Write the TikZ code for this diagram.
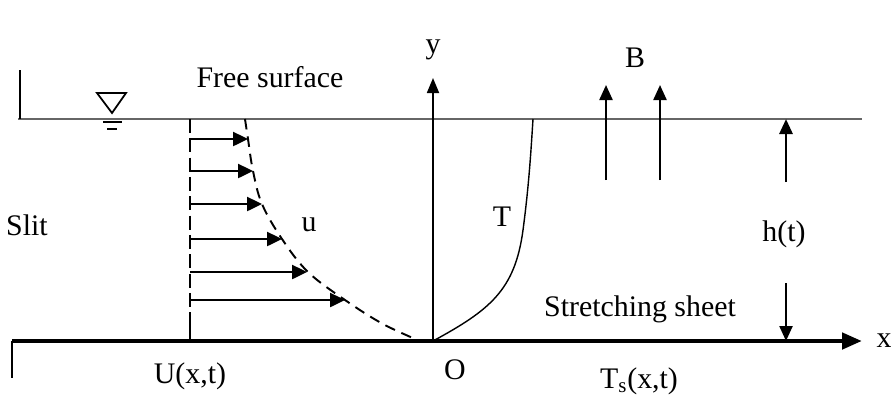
\documentclass[tikz,border=0pt]{standalone}
\usepackage{fontspec}
\setmainfont{Liberation Serif}
\usetikzlibrary{arrows.meta,positioning}

\begin{document}
\begin{tikzpicture}[x=0.02cm,y=-0.02cm,
  lbl/.style={font=\fontsize{17}{20}\selectfont,inner sep=1pt},
  vel/.style={-{Triangle[length=3mm,width=2.8mm]},line width=1.4pt},
  fld/.style={-{Triangle[length=3mm,width=2.6mm]},line width=1.3pt},
  surf/.style={draw=black!60,line width=1.3pt},
  wall/.style={line width=1.7pt}]
\useasboundingbox (0,0) rectangle (891,400);
% walls and free surface
\coordinate (sl) at (18,119);
\coordinate (sr) at (862,119);
\draw[surf] (sl) -- (sr);
\coordinate (wt) at (20,70);
\coordinate (wb) at (20,119);
\draw[wall] (wt) -- (wb);
\coordinate (bt) at (12,341);
\coordinate (bb) at (12,378);
\draw[wall] (bt) -- (bb);
\coordinate (xe) at (862,341);
\draw[-{Triangle[length=4mm,width=3.2mm]},line width=2.6pt] (bt) -- (xe);
% water level mark
\draw[line width=1pt] (97,93) -- (126,93) -- (112,113) -- cycle;
\draw[line width=1.1pt] (103,122) -- (122,122);
\draw[line width=1.1pt] (107,129) -- (117,129);
% slit and velocity profile
\coordinate (st) at (190,119);
\coordinate (sm) at (190,324);
\coordinate (sb) at (190,341);
\draw[dashed,line width=1.2pt,dash pattern=on 8pt off 3pt] (st) -- (sm);
\draw[line width=1.5pt] (sm) -- (sb);
\draw[dashed,line width=1.1pt,dash pattern=on 6pt off 4pt] plot[smooth,tension=0.6] coordinates
  {(245,119) (248,139) (253,171) (262,204) (282,239) (308,272) (345,300) (383,324) (420,341)};
\coordinate (v1) at (190,139); \coordinate (u1) at (248,139);
\coordinate (v2) at (190,171); \coordinate (u2) at (253,171);
\coordinate (v3) at (190,204); \coordinate (u3) at (262,204);
\coordinate (v4) at (190,239); \coordinate (u4) at (282,239);
\coordinate (v5) at (190,272); \coordinate (u5) at (307,272);
\coordinate (v6) at (190,300); \coordinate (u6) at (345,300);
\draw[vel] (v1) -- (u1);
\draw[vel] (v2) -- (u2);
\draw[vel] (v3) -- (u3);
\draw[vel] (v4) -- (u4);
\draw[vel] (v5) -- (u5);
\draw[vel] (v6) -- (u6);
% axes
\coordinate (o) at (433,341);
\coordinate (ye) at (433,78);
\draw[-{Triangle[length=3mm,width=2.4mm]},line width=1pt] (o) -- (ye);
% temperature profile
\draw[line width=0.8pt] (o) .. controls (490,310) and (515,290) .. (523,230)
  .. controls (529,185) and (531,150) .. (533,119);
% magnetic field
\coordinate (b1s) at (606,180); \coordinate (b1e) at (606,85);
\coordinate (b2s) at (660,180); \coordinate (b2e) at (660,85);
\draw[fld] (b1s) -- (b1e);
\draw[fld] (b2s) -- (b2e);
% depth h(t)
\coordinate (hu) at (786,182); \coordinate (ht) at (786,119);
\coordinate (hd) at (786,283); \coordinate (hb) at (786,341);
\draw[fld,line width=1.6pt] (hu) -- (ht);
\draw[fld] (hd) -- (hb);
% labels
\node[lbl] (free) at (270,77) {Free surface};
\node[lbl] (slit) at (27,225) {Slit};
\node[lbl] (uvel) at (309,225) {u};
\node[lbl] (ulab) at (190,376) {U(x,t)};
\node[lbl] (olab) at (455,370) {O};
\node[lbl] (ylab) at (433,50) {y};
\node[lbl] (xlab) at (884,341) {x};
\node[lbl] (tlab) at (502,217) {T};
\node[lbl] (blab) at (635,58) {B};
\node[lbl] (hlab) at (784,234) {h(t)};
\node[lbl] (sheet) at (640,309) {Stretching sheet};
\node[lbl] (tslab) at (639,381) {T\textsubscript{s}(x,t)};
\end{tikzpicture}
\end{document}
